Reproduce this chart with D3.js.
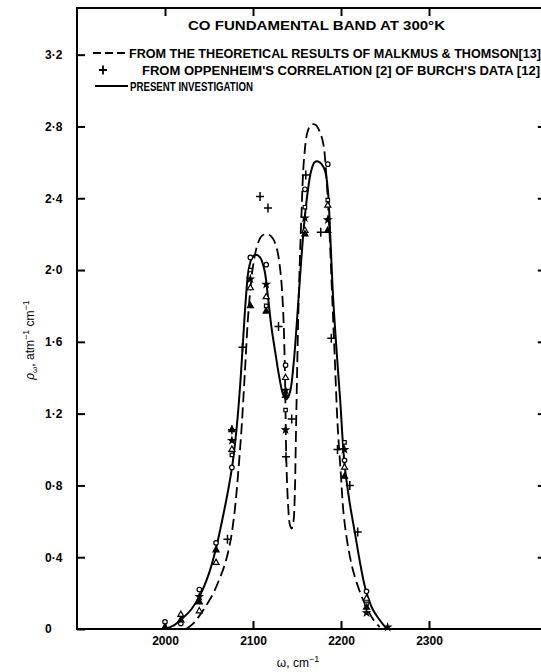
<!DOCTYPE html>
<html>
<head>
<meta charset="utf-8">
<script src="https://cdn.jsdelivr.net/npm/d3@7"></script>
<style>
  body { margin: 0; background: #fff; }
  text { font-family: "Liberation Sans", Arial, sans-serif; fill: #000; }
</style>
</head>
<body>
<div id="chart"></div>
<script>
// tick values
var xTicks = [2000, 2100, 2200, 2300];
var yTicks = [0, 0.4, 0.8, 1.2, 1.6, 2.0, 2.4, 2.8, 3.2];
var yTickLabels = ["0", "0·4", "0·8", "1·2", "1·6", "2·0", "2·4", "2·8", "3·2"];
var rightTicks = [0.4, 0.8, 1.2, 1.6, 2.0, 2.4, 2.8];

// present investigation (solid curve), [wavenumber, rho]
var presentCurve = [
  [2000, 0.0], [2010, 0.02], [2020, 0.06], [2030, 0.11], [2040, 0.19], [2050, 0.31],
  [2058, 0.45], [2066, 0.63], [2072, 0.78], [2077, 0.93], [2082, 1.15], [2086, 1.40],
  [2089, 1.63], [2092, 1.85], [2095, 2.0], [2099, 2.07], [2103, 2.085], [2108, 2.07],
  [2113, 2.0], [2117, 1.85], [2121, 1.68], [2126, 1.52], [2130, 1.40], [2134, 1.31],
  [2138, 1.28], [2142, 1.32], [2146, 1.47], [2150, 1.72], [2154, 2.0], [2158, 2.25],
  [2162, 2.43], [2166, 2.55], [2170, 2.60], [2174, 2.605], [2178, 2.59], [2182, 2.55],
  [2185, 2.45], [2188, 2.17], [2191, 1.85], [2195, 1.55], [2199, 1.28], [2204, 0.92],
  [2210, 0.70], [2216, 0.53], [2222, 0.36], [2228, 0.22], [2236, 0.11], [2244, 0.05],
  [2252, 0.0]
];

// Malkmus & Thomson theory (dashed curve)
var theoryCurve = [
  [2024, 0.0], [2032, 0.03], [2040, 0.08], [2048, 0.14], [2055, 0.2], [2062, 0.28],
  [2068, 0.36], [2074, 0.48], [2079, 0.65], [2083, 0.86], [2087, 1.12], [2091, 1.45],
  [2095, 1.78], [2100, 2.02], [2105, 2.14], [2110, 2.19], [2116, 2.20], [2122, 2.18],
  [2127, 2.12], [2131, 2.0], [2134, 1.80], [2136, 1.50], [2137, 1.20], [2138, 0.92],
  [2140, 0.68], [2142, 0.58], [2144, 0.56], [2146, 0.60], [2147.5, 0.75], [2148.5, 1.0],
  [2150, 1.40], [2152, 1.85], [2155, 2.30], [2158, 2.62], [2162, 2.77], [2166, 2.81],
  [2171, 2.81], [2176, 2.77], [2180, 2.70], [2183, 2.55], [2187, 2.20], [2190, 1.85],
  [2193, 1.50], [2196, 1.15], [2200, 0.85], [2203, 0.64], [2208, 0.46], [2214, 0.32],
  [2222, 0.2], [2229, 0.12], [2237, 0.05], [2244, 0.01]
];

// Oppenheim's correlation of Burch's data
var oppenheimPts = [
  [2071, 0.50], [2076, 1.11], [2088, 1.57], [2108, 2.41], [2117, 2.345], [2129, 1.685],
  [2137.5, 0.96], [2144, 1.17], [2160, 2.53], [2177, 2.21], [2189, 1.62], [2196, 1.0],
  [2210, 0.80], [2219, 0.54]
];

// experimental points
var openCircles = [
  [2000, 0.04], [2018, 0.03], [2039, 0.22], [2058, 0.48], [2076, 0.90], [2097, 2.07],
  [2115, 2.03], [2137, 1.47], [2159, 2.45], [2185, 2.59], [2204, 0.94], [2229, 0.21]
];
var openTriangles = [
  [2018, 0.08], [2039, 0.10], [2058, 0.37], [2076, 1.0], [2097, 1.9], [2115, 1.85],
  [2137, 1.40], [2159, 2.22], [2185, 2.36], [2204, 0.90], [2229, 0.17]
];
var filledTriangles = [
  [2000, 0.01], [2018, 0.05], [2039, 0.15], [2058, 0.44], [2076, 1.11], [2097, 1.8],
  [2115, 1.77], [2137, 1.30], [2159, 2.20], [2185, 2.22], [2204, 0.85], [2229, 0.12]
];
var stars = [
  [2039, 0.18], [2076, 1.05], [2097, 1.95], [2115, 1.92], [2137, 1.33], [2137, 1.11],
  [2159, 2.29], [2185, 2.28], [2204, 1.0], [2229, 0.09], [2253, 0.01]
];
var openSquares = [
  [2076, 0.97], [2097, 2.0], [2115, 1.80], [2137, 1.22], [2159, 2.35], [2185, 2.39],
  [2204, 1.04], [2229, 0.14]
];

var W = 541, H = 672;

var x = d3.scaleLinear().domain([1900, 2435]).range([77, 547.8]);
var y = d3.scaleLinear().domain([0, 3.46]).range([629, 8]);

var svg = d3.select("#chart").append("svg")
    .attr("width", W)
    .attr("height", H);

// frame
svg.append("rect")
    .attr("x", x(1900)).attr("y", y(3.46))
    .attr("width", x(2435) - x(1900)).attr("height", y(0) - y(3.46))
    .attr("fill", "none").attr("stroke", "#000").attr("stroke-width", 2);

// bottom axis, inward ticks
var bx = svg.append("g")
    .attr("transform", "translate(0," + y(0) + ")")
    .call(d3.axisBottom(x).tickValues(xTicks).tickSize(-8).tickPadding(6).tickFormat(d3.format("d")));
bx.select(".domain").remove();
bx.selectAll("line").attr("stroke-width", 2);
bx.selectAll("text").style("font-size", "12px").style("font-weight", "bold").attr("dy", "0.85em");

// top axis
var tx = svg.append("g")
    .attr("transform", "translate(0," + y(3.46) + ")")
    .call(d3.axisTop(x).tickValues(xTicks).tickSize(-8).tickFormat(""));
tx.select(".domain").remove();
tx.selectAll("line").attr("stroke-width", 2);

// left axis
var ly = svg.append("g")
    .attr("transform", "translate(" + x(1900) + ",0)")
    .call(d3.axisLeft(y).tickValues(yTicks).tickSize(-8)
        .tickFormat(function(d, i) { return yTickLabels[i]; }));
ly.select(".domain").remove();
ly.selectAll("line").attr("stroke-width", 2);
ly.selectAll("text")
    .attr("text-anchor", "start")
    .attr("x", -32)
    .style("font-size", "12px").style("font-weight", "bold");

// right axis
var ry = svg.append("g")
    .attr("transform", "translate(" + x(2435) + ",0)")
    .call(d3.axisRight(y).tickValues(rightTicks).tickSize(-10).tickFormat(""));
ry.select(".domain").remove();
ry.selectAll("line").attr("stroke-width", 2);

// curves
var line = d3.line()
    .x(function(d) { return x(d[0]); })
    .y(function(d) { return y(d[1]); })
    .curve(d3.curveCatmullRom.alpha(0.5));

svg.append("path")
    .datum(theoryCurve)
    .attr("d", line)
    .attr("fill", "none").attr("stroke", "#000").attr("stroke-width", 1.8)
    .attr("stroke-dasharray", "11,5");

svg.append("path")
    .datum(presentCurve)
    .attr("d", line)
    .attr("fill", "none").attr("stroke", "#000").attr("stroke-width", 2);

// markers
function drawSymbols(data, type, size, filled) {
    svg.append("g").selectAll("path")
        .data(data).enter().append("path")
        .attr("transform", function(d) { return "translate(" + x(d[0]) + "," + y(d[1]) + ")"; })
        .attr("d", d3.symbol().type(type).size(size))
        .attr("fill", filled ? "#000" : "#fff")
        .attr("stroke", "#000").attr("stroke-width", 1.2);
}
drawSymbols(openCircles, d3.symbolCircle, 16, false);
drawSymbols(openSquares, d3.symbolSquare, 12, false);
drawSymbols(openTriangles, d3.symbolTriangle, 16, false);
drawSymbols(filledTriangles, d3.symbolTriangle, 16, true);
drawSymbols(stars, d3.symbolStar, 12, true);

var plus = "M-4,0H4M0,-4.5V4.5";
svg.append("g").selectAll("path")
    .data(oppenheimPts).enter().append("path")
    .attr("transform", function(d) { return "translate(" + x(d[0]) + "," + y(d[1]) + ")"; })
    .attr("d", plus)
    .attr("stroke", "#000").attr("stroke-width", 1.5);

// legend
var leg = svg.append("g").style("font-weight", "bold").style("font-size", "12px");
leg.append("text").attr("x", 188).attr("y", 30).attr("textLength", 257)
    .attr("lengthAdjust", "spacingAndGlyphs").style("font-size", "12.5px")
    .text("CO FUNDAMENTAL BAND AT 300°K");

leg.append("line").attr("x1", 93).attr("x2", 128).attr("y1", 53).attr("y2", 53)
    .attr("stroke", "#000").attr("stroke-width", 1.8).attr("stroke-dasharray", "8,4");
leg.append("text").attr("x", 129).attr("y", 57.5).attr("textLength", 412)
    .attr("lengthAdjust", "spacingAndGlyphs")
    .text("FROM THE THEORETICAL RESULTS OF MALKMUS & THOMSON[13]");

leg.append("path").attr("transform", "translate(103,70)").attr("d", plus)
    .attr("stroke", "#000").attr("stroke-width", 1.8);
leg.append("text").attr("x", 142).attr("y", 74.5).attr("textLength", 398)
    .attr("lengthAdjust", "spacingAndGlyphs")
    .text("FROM OPPENHEIM'S CORRELATION [2] OF BURCH'S DATA [12]");

leg.append("line").attr("x1", 95).attr("x2", 128).attr("y1", 86).attr("y2", 86)
    .attr("stroke", "#000").attr("stroke-width", 2);
leg.append("text").attr("x", 130).attr("y", 90.5).attr("textLength", 123)
    .attr("lengthAdjust", "spacingAndGlyphs")
    .text("PRESENT  INVESTIGATION");

// axis titles
var xt = svg.append("text").attr("x", 298).attr("y", 667).attr("text-anchor", "middle")
    .style("font-size", "12px");
xt.append("tspan").text("ω, cm");
xt.append("tspan").attr("dy", -5).style("font-size", "9px").text("−1");

var yt = svg.append("text")
    .attr("transform", "translate(34,340) rotate(-90)")
    .attr("text-anchor", "middle").style("font-size", "12px");
yt.append("tspan").style("font-style", "italic").text("ρ");
yt.append("tspan").attr("dy", 3).style("font-size", "8px").text("ω");
yt.append("tspan").attr("dy", -3).text(", atm");
yt.append("tspan").attr("dy", -5).style("font-size", "9px").text("−1");
yt.append("tspan").attr("dy", 5).text(" cm");
yt.append("tspan").attr("dy", -5).style("font-size", "9px").text("−1");
</script>
</body>
</html>
